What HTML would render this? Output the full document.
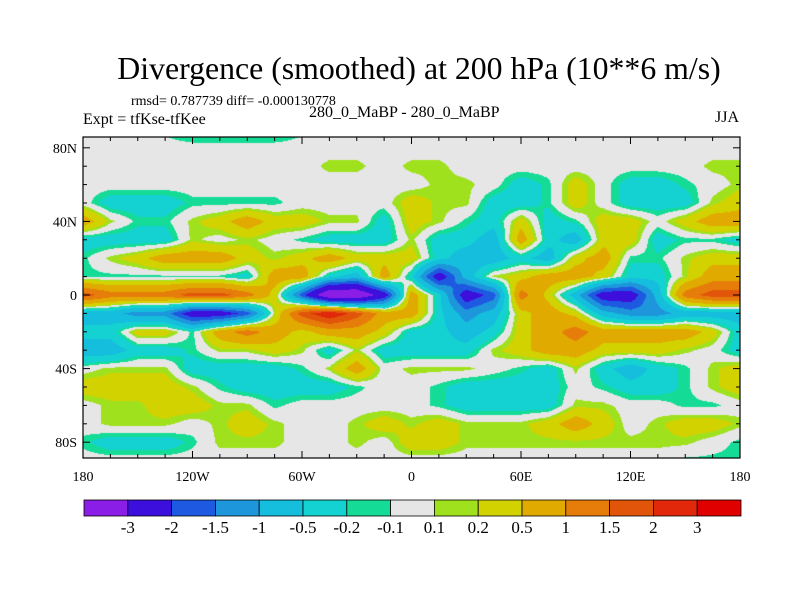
<!DOCTYPE html>
<html><head><meta charset="utf-8"><style>
body{margin:0;background:#fff;}
#wrap{position:relative;width:800px;height:600px;overflow:hidden;font-family:"Liberation Serif",serif;color:#000;}
.t{position:absolute;white-space:nowrap;}
</style></head><body>
<div id="wrap">
<div class="t" style="left:0;width:838px;text-align:center;top:51px;font-size:31.8px;">Divergence (smoothed) at 200 hPa (10**6 m/s)</div>
<div class="t" style="left:131px;top:94px;font-size:14px;">rmsd= 0.787739 diff= -0.000130778</div>
<div class="t" style="left:83px;top:111px;font-size:16px;">Expt = tfKse-tfKee</div>
<div class="t" style="left:309px;top:104px;font-size:16px;">280_0_MaBP - 280_0_MaBP</div>
<div class="t" style="left:715px;top:109px;font-size:16px;">JJA</div>
<canvas id="map" width="657" height="321" style="position:absolute;left:83px;top:137px;"></canvas>
<svg id="ov" width="800" height="600" style="position:absolute;left:0;top:0;"></svg>
</div>
<script>
const lons=[-180,-165,-150,-135,-120,-105,-90,-75,-60,-45,-30,-15,0,15,30,45,60,75,90,105,120,135,150,165,180];
const lats=[90,80,70,60,50,40,30,20,10,0,-10,-20,-30,-40,-50,-60,-70,-80,-90];
const r90=[-0.15,-0.15,-0.15,-0.15,-0.35,-0.35,-0.35,-0.35,-0.15,-0.15,-0.15,-0.15,-0.15,-0.15,-0.15,-0.15,-0.15,-0.15,-0.15,-0.15,-0.15,-0.15,-0.15,-0.15,-0.15];
const r80=[0,0,0,0,0,0,0,0,0,0,0,0,0,0,0,0,0,0,0,0,0,0,0,0,0];
const r70=[0,0,0,0,0,0,0,0,0,0.15,0.15,0,0.15,0.15,0,0,0,0,0,0,0,0,0,0.15,0.15];
const r60=[0,0,0,0,0,0,0,0,0,0,0,0,0,0.15,0.15,0,-0.35,-0.15,0.35,0,-0.35,-0.35,-0.15,0,0.15];
const r50=[0,-0.35,-0.35,-0.35,-0.15,-0.15,-0.15,-0.15,0,0,0,0,0.35,0.15,0.15,-0.35,-0.35,-0.15,0.35,0,-0.35,-0.35,-0.35,0.15,0.35];
const r40=[0.75,0.15,-0.15,-0.15,0.15,0.35,0.75,0.35,0.35,0.15,0.15,-0.35,0.35,0.15,-0.15,-0.35,0.35,-0.35,-0.15,0.35,0.35,0,0.35,0.75,0.75];
const r30=[-0.35,-0.35,-0.35,-0.35,0.15,0,0.15,0,-0.15,-0.35,-0.35,-0.35,0.15,-0.35,-0.35,-0.75,0.75,-0.35,-0.75,0.35,0.35,-0.35,-0.15,-0.15,-0.35];
const r20=[-0.15,0.15,0.35,0.75,0.75,0.75,0.35,0.15,0.35,0.75,0.35,0.35,0.35,-0.35,-0.75,-0.75,-0.35,-0.75,0.35,0.75,-0.15,-0.15,0.15,0.35,0.35];
const r10=[-0.15,-0.15,-0.15,-0.15,-0.15,-0.15,-0.35,0.75,0.75,-0.35,-0.75,0.75,-0.35,-2.5,-0.75,0.15,0.35,0.75,0.75,0.35,-0.35,-0.35,0.15,0.75,0.75];
const r0=[1.75,1.25,1.25,1.25,1.75,1.75,1.25,0.35,-1.75,-4,-4,-2.5,0.75,-0.35,-2.5,-1.75,1.25,0.35,-0.75,-2.5,-2.5,-0.75,1.25,1.75,1.75];
const rS10=[-0.75,-0.75,-1.25,-1.25,-2.5,-2.5,-1.75,0.15,1.75,2.5,1.75,0.75,0.75,-0.35,-1.25,-0.75,0.35,0.75,0.35,-0.75,-1.25,-1.25,-0.75,-0.75,-0.75];
const rS20=[-0.35,-0.35,0.35,0.35,-0.15,0.75,1.25,0.75,0.35,0.75,0.75,0.35,-0.35,-0.35,-0.75,-0.35,0.35,0.75,1.25,0.75,0.75,0.75,0.75,0.35,-0.35];
const rS30=[-0.75,-0.75,-0.35,-0.35,-0.15,0.15,0.15,0.35,0.15,-0.35,0.15,-0.35,-0.35,-0.35,-0.35,0.15,0.35,0.75,0.75,0.35,0.35,0.35,0.15,0,-0.35];
const rS40=[0,0.15,0.15,0.15,-0.35,-0.35,-0.35,-0.35,-0.15,0.15,0.75,0,0.15,0.15,0.15,0,-0.15,-0.35,0.15,-0.35,-0.75,-0.35,-0.15,0.15,0.35];
const rS50=[0.35,0.35,0.35,0.35,0.15,-0.15,-0.35,-0.35,-0.35,-0.35,-0.15,0,0,-0.15,-0.35,-0.35,-0.35,-0.35,0,-0.15,-0.35,-0.35,-0.15,0.15,0.35];
const rS60=[0,0.15,0.15,0.35,0.35,0.15,0.15,-0.15,0,0,0,0,0,-0.15,-0.35,-0.35,-0.35,-0.35,0.15,0.15,0,0,-0.15,-0.15,0];
const rS70=[0,0.15,0.15,0.15,0,0.15,0.35,0.15,0,0,0.15,0.35,0.15,0.35,0.15,0.15,0.15,0.35,0.75,0.35,0,0.15,0.35,0.35,0.15];
const rS80=[-0.15,-0.35,-0.35,-0.35,-0.15,0.15,0.15,0.15,0,0,0.15,0,0.35,0.35,0.15,0.15,0.15,0.15,0.15,0.15,0.15,0.15,0.15,0,-0.15];
const rS90=[0,0,0,0,0,0,0,0,0,0,0,0,0,0,0,0,0,0,0,0,0,0,-0.15,-0.15,-0.15];
const grid=[r90,r80,r70,r60,r50,r40,r30,r20,r10,r0,rS10,rS20,rS30,rS40,rS50,rS60,rS70,rS80,rS90];
const levels=[-3,-2,-1.5,-1,-0.5,-0.2,-0.1,0.1,0.2,0.5,1,1.5,2,3];
const levelLabels=["-3","-2","-1.5","-1","-0.5","-0.2","-0.1","0.1","0.2","0.5","1","1.5","2","3"];
const colors=["#8a1ee6","#3c0fdc","#1e5ae1","#1e96dc","#14bedc","#14d2d2","#14dc96","#e6e6e6","#a0e11e","#d2d200","#e1aa00","#e67d0a","#e1550a","#e1280a","#e10000"];
const latTicks=[80,40,0,-40,-80];
const latTickLabels=["80N","40N","0","40S","80S"];
const lonTicks=[-180,-120,-60,0,60,120,180];
const lonTickLabels=["180","120W","60W","0","60E","120E","180"];

const X0=83,X1=740,Y0=137,Y1=458;
function xOf(lon){return X0+(lon+180)*(X1-X0)/360;}
function yOf(lat){return 295-lat*1.84;}
function lonOf(x){return (x-X0)*360/(X1-X0)-180;}
function latOf(y){return (295-y)/1.84;}
function sample(lon,lat){
  let fi=(lon+180)/15; let fj=(90-lat)/10;
  fi=Math.max(0,Math.min(lons.length-1.0001,fi)); fj=Math.max(0,Math.min(lats.length-1.0001,fj));
  const i=Math.floor(fi),j=Math.floor(fj),a=fi-i,b=fj-j;
  const v00=grid[j][i],v10=grid[j][i+1],v01=grid[j+1][i],v11=grid[j+1][i+1];
  return (v00*(1-a)+v10*a)*(1-b)+(v01*(1-a)+v11*a)*b;
}
const cv=document.getElementById('map');const ctx=cv.getContext('2d');
const img=ctx.createImageData(cv.width,cv.height);
const rgb=colors.map(c=>[parseInt(c.substr(1,2),16),parseInt(c.substr(3,2),16),parseInt(c.substr(5,2),16)]);
for(let py=0;py<cv.height;py++){for(let px=0;px<cv.width;px++){
  const v=sample(lonOf(X0+px+0.5),latOf(Y0+py+0.5));
  let k=0;while(k<levels.length&&v>=levels[k])k++;
  const o=(py*cv.width+px)*4;img.data[o]=rgb[k][0];img.data[o+1]=rgb[k][1];img.data[o+2]=rgb[k][2];img.data[o+3]=255;}}
ctx.putImageData(img,0,0);

const NS='http://www.w3.org/2000/svg';const svg=document.getElementById('ov');
function mk(tag,attrs,txt){const e=document.createElementNS(NS,tag);for(const k in attrs)e.setAttribute(k,attrs[k]);if(txt!==undefined)e.textContent=txt;svg.appendChild(e);return e;}
let fr=mk('rect',{x:X0,y:Y0,width:X1-X0,height:Y1-Y0,fill:'none',stroke:'#000','stroke-width':1.2});


for(let lat=-80;lat<=80;lat+=10){const y=yOf(lat);const big=latTicks.indexOf(lat)>=0;const L=big?7:4;
  mk('line',{x1:X0,y1:y,x2:X0+L,y2:y,stroke:'#000'});mk('line',{x1:X1,y1:y,x2:X1-L,y2:y,stroke:'#000'});}
for(let lon=-180;lon<=180;lon+=15){const x=xOf(lon);const big=lonTicks.indexOf(lon)>=0;const L=big?7:4;
  mk('line',{x1:x,y1:Y1,x2:x,y2:Y1-L,stroke:'#000'});mk('line',{x1:x,y1:Y0,x2:x,y2:Y0+L,stroke:'#000'});}
latTicks.forEach((lat,i)=>{const t=mk('text',{x:X0-6,y:yOf(lat)+5,'text-anchor':'end','font-size':14,'font-family':'Liberation Serif, serif'},latTickLabels[i]);
  
  });
lonTicks.forEach((lon,i)=>{const t=mk('text',{x:xOf(lon),y:Y1+23,'text-anchor':'middle','font-size':14,'font-family':'Liberation Serif, serif'},lonTickLabels[i]);
  
  });
const CB0=84,CB1=741,CBY=500,CBH=16;const bw=(CB1-CB0)/colors.length;
colors.forEach((c,i)=>{const r=mk('rect',{x:CB0+i*bw,y:CBY,width:bw,height:CBH,fill:c,stroke:'#000','stroke-width':0.8});
  
  });
levelLabels.forEach((l,i)=>{const t=mk('text',{x:CB0+(i+1)*bw,y:CBY+CBH+17,'text-anchor':'middle','font-size':17,'font-family':'Liberation Serif, serif'},l);
  
  });
</script>
</body></html>
